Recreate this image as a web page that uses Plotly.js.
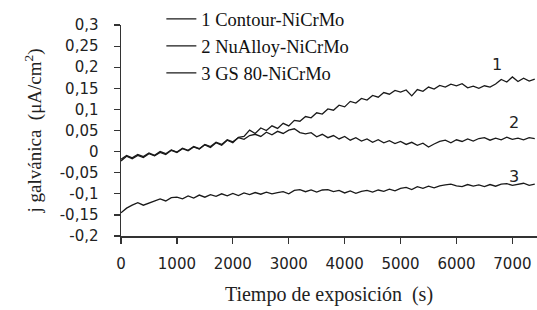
<!DOCTYPE html>
<html>
<head>
<meta charset="utf-8">
<script src="https://cdn.plot.ly/plotly-3.0.1.min.js"></script>
<style>html,body{margin:0;padding:0;background:#fff;}#chart{width:537px;height:310px;}</style>
</head>
<body>
<div id="chart"></div>
<script>
// Time (s), every 100 s
const time = [0,100,200,300,400,500,600,700,800,900,1000,1100,1200,1300,1400,1500,1600,1700,1800,1900,2000,2100,2200,2300,2400,2500,2600,2700,2800,2900,3000,3100,3200,3300,3400,3500,3600,3700,3800,3900,4000,4100,4200,4300,4400,4500,4600,4700,4800,4900,5000,5100,5200,5300,5400,5500,5600,5700,5800,5900,6000,6100,6200,6300,6400,6500,6600,6700,6800,6900,7000,7100,7200,7300,7400];

const contour = [-0.022,-0.011,-0.017,-0.009,-0.014,-0.005,-0.010,-0.002,-0.007,0.003,-0.002,0.007,0.002,0.011,0.006,0.016,0.010,0.021,0.015,0.027,0.021,0.034,0.036,0.051,0.043,0.056,0.050,0.061,0.055,0.067,0.061,0.074,0.072,0.083,0.080,0.092,0.089,0.101,0.098,0.110,0.106,0.119,0.115,0.126,0.122,0.133,0.129,0.140,0.136,0.145,0.141,0.146,0.132,0.147,0.143,0.153,0.148,0.157,0.153,0.160,0.156,0.161,0.151,0.155,0.150,0.156,0.153,0.160,0.171,0.165,0.177,0.166,0.174,0.167,0.172];

const nualloy = [-0.018,-0.009,-0.015,-0.007,-0.012,-0.003,-0.009,0.000,-0.005,0.004,-0.001,0.008,0.003,0.012,0.007,0.017,0.012,0.022,0.017,0.028,0.023,0.033,0.029,0.038,0.041,0.036,0.046,0.040,0.048,0.043,0.051,0.054,0.045,0.042,0.045,0.035,0.041,0.033,0.038,0.030,0.036,0.027,0.033,0.025,0.030,0.022,0.028,0.021,0.026,0.019,0.024,0.017,0.022,0.015,0.020,0.011,0.018,0.024,0.027,0.021,0.028,0.024,0.030,0.025,0.031,0.033,0.027,0.032,0.028,0.034,0.029,0.032,0.028,0.033,0.031];

const gs80 = [-0.145,-0.134,-0.127,-0.121,-0.127,-0.122,-0.118,-0.112,-0.117,-0.109,-0.108,-0.112,-0.105,-0.110,-0.103,-0.108,-0.102,-0.106,-0.100,-0.105,-0.099,-0.104,-0.098,-0.102,-0.097,-0.101,-0.096,-0.100,-0.097,-0.095,-0.100,-0.092,-0.090,-0.095,-0.091,-0.096,-0.091,-0.090,-0.095,-0.092,-0.098,-0.093,-0.099,-0.094,-0.092,-0.096,-0.091,-0.094,-0.089,-0.093,-0.087,-0.085,-0.090,-0.083,-0.087,-0.082,-0.086,-0.081,-0.079,-0.077,-0.081,-0.083,-0.078,-0.082,-0.079,-0.083,-0.078,-0.082,-0.077,-0.076,-0.080,-0.077,-0.075,-0.080,-0.077];

const seriesNames = ["1 Contour-NiCrMo", "2 NuAlloy-NiCrMo", "3 GS 80-NiCrMo"];

const yTickVals = [-0.2,-0.15,-0.1,-0.05,0,0.05,0.1,0.15,0.2,0.25,0.3];
const yTickText = ["-0,2","-0,15","-0,1","-0,05","0","0,05","0,1","0,15","0,2","0,25","0,3"];
const xTickVals = [0,1000,2000,3000,4000,5000,6000,7000];
const xTickText = ["0","1000","2000","3000","4000","5000","6000","7000"];

// Curve labels
const labelText = ["1","2","3"];
const labelX = [6720,7030,7030];
const labelY = [0.207,0.070,-0.059];

const lineColor = "#1a1a1a";
const serif = "Liberation Serif, Times New Roman, serif";
const sans = "DejaVu Sans, Verdana, sans-serif";

const data = [contour, nualloy, gs80].map((ys, i) => ({
  x: time, y: ys, type: "scatter", mode: "lines", name: seriesNames[i],
  line: {color: lineColor, width: 1.3}
}));

const annotations = labelText.map((t, i) => ({
  x: labelX[i], y: labelY[i], xref: "x", yref: "y", text: t, showarrow: false,
  font: {family: sans, size: 16, color: "#222"}
}));

const layout = {
  width: 537, height: 310,
  margin: {l: 121, r: 0, t: 23, b: 74},
  paper_bgcolor: "#fff", plot_bgcolor: "#fff",
  showlegend: true,
  legend: {
    x: 0.097, y: 1.117, xanchor: "left", yanchor: "top",
    bgcolor: "rgba(0,0,0,0)", borderwidth: 0,
    font: {family: serif, size: 18.5, color: "#111"},
    tracegroupgap: 0
  },
  xaxis: {
    range: [0, 7440], showgrid: false, zeroline: false,
    showline: true, linecolor: "#333", linewidth: 1.5,
    ticks: "outside", ticklen: 6, tickcolor: "#333", tickwidth: 1.2,
    tickvals: xTickVals, ticktext: xTickText, ticklabelstandoff: 7,
    tickfont: {family: sans, size: 15, color: "#222"},
    title: {text: "Tiempo de exposición  (s)", font: {family: serif, size: 20, color: "#222"}, standoff: 15}
  },
  yaxis: {
    range: [-0.2, 0.3], showgrid: false, zeroline: false,
    showline: true, linecolor: "#333", linewidth: 1.5,
    ticks: "outside", ticklen: 6, tickcolor: "#333", tickwidth: 1.2,
    tickvals: yTickVals, ticktext: yTickText, ticklabelstandoff: 12,
    tickfont: {family: sans, size: 15, color: "#222"},
    title: {text: "j galvánica  (μA/cm<sup>2</sup>)", font: {family: serif, size: 19, color: "#222"}, standoff: 13}
  },
  annotations: annotations
};

Plotly.newPlot("chart", data, layout, {displayModeBar: false, staticPlot: true});
</script>
</body>
</html>
